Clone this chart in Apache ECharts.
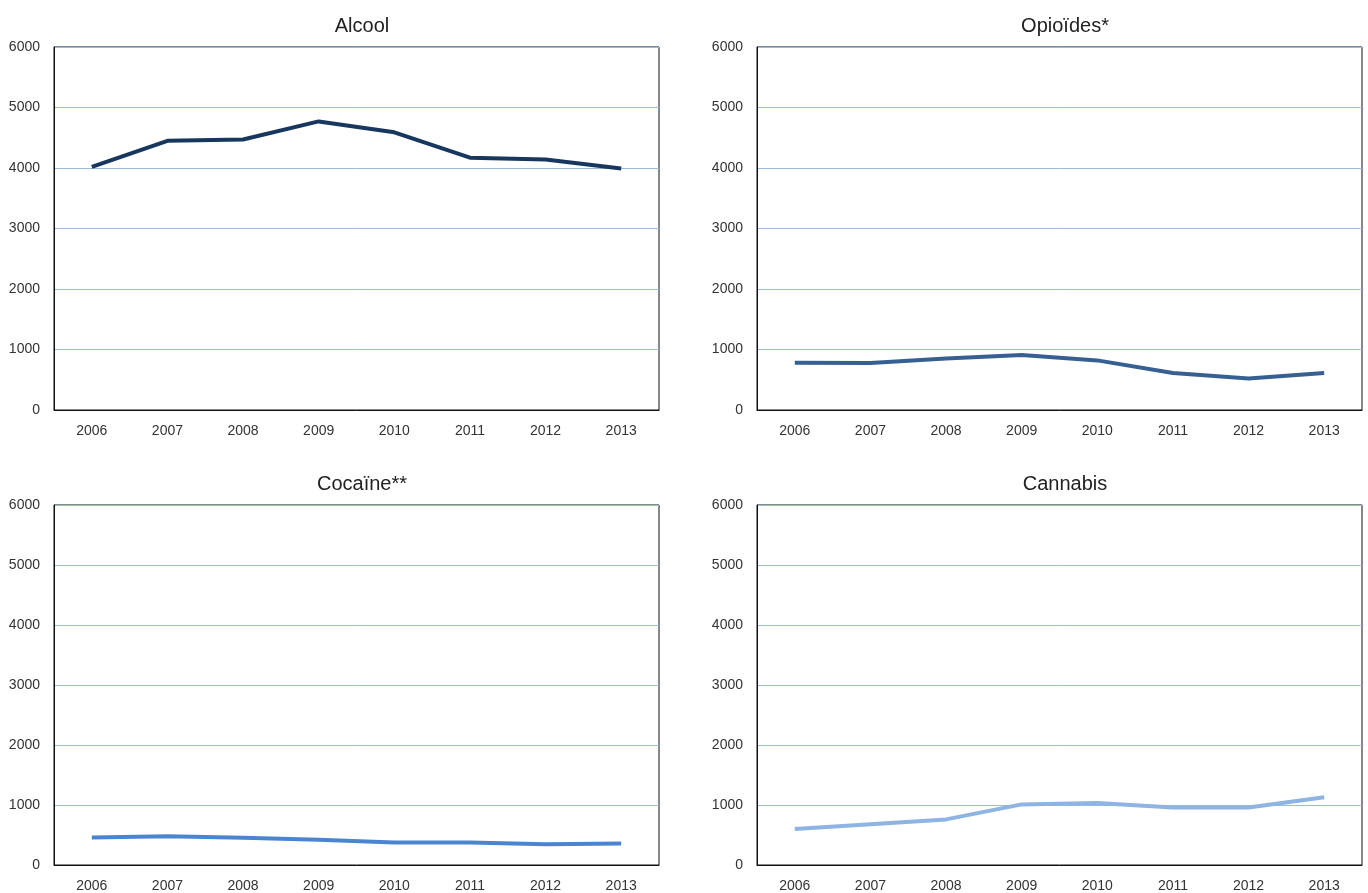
<!DOCTYPE html>
<html><head><meta charset="utf-8">
<script src="https://cdn.jsdelivr.net/npm/echarts@6/dist/echarts.min.js"></script>
<style>html,body{margin:0;background:#fff}#main{width:1368px;height:893px}</style>
</head><body><div id="main"></div>
<script>
var years = ['2006','2007','2008','2009','2010','2011','2012','2013'];
var titles = ['Alcool', 'Opioïdes*', 'Cocaïne**', 'Cannabis'];
var alcool = [4020, 4450, 4470, 4770, 4590, 4170, 4140, 3990];
var opioides = [780, 775, 850, 910, 820, 610, 520, 610];
var cocaine = [460, 480, 455, 420, 375, 375, 345, 360];
var cannabis = [600, 680, 760, 1010, 1035, 960, 960, 1130];
var colors = ['#17375E', '#376092', '#4A86D0', '#8DB4E2'];

var myChart = echarts.init(document.getElementById('main'));
var boxes = [[54, 47], [757, 47], [54, 505], [757, 505]];
var allData = [alcool, opioides, cocaine, cannabis];
var font = 'Liberation Sans';

option = {
    backgroundColor: '#fff',
    title: boxes.map(function (b, i) {
        return { text: titles[i], left: b[0] + 303, top: b[1] - 36, textAlign: 'center',
            textStyle: { fontSize: 20, fontWeight: 'normal', color: '#222', fontFamily: font } };
    }),
    grid: boxes.map(function (b) {
        return { left: b[0], top: b[1], width: 605, height: 363, show: true,
            borderColor: '#111', borderWidth: 1, backgroundColor: 'transparent' };
    }),
    xAxis: boxes.map(function (b, i) {
        return { type: 'category', gridIndex: i, data: years, boundaryGap: true,
            axisLine: { show: true, lineStyle: { color: '#111' } }, axisTick: { show: false },
            axisLabel: { color: '#333', fontSize: 14, fontFamily: font, margin: 14 } };
    }),
    yAxis: boxes.map(function (b, i) {
        return { type: 'value', gridIndex: i, min: 0, max: 6000, interval: 1000,
            axisLine: { show: true, lineStyle: { color: '#111' } }, axisTick: { show: false },
            axisLabel: { color: '#333', fontSize: 14, fontFamily: font, margin: 14,
                formatter: function (v) { return String(v); } },
            splitLine: { lineStyle: { color: '#9DB9E0', width: 1 } } };
    }),
    series: allData.map(function (d, i) {
        return { type: 'line', xAxisIndex: i, yAxisIndex: i, data: d, symbol: 'none',
            lineStyle: { color: colors[i], width: 4 }, itemStyle: { color: colors[i] } };
    })
};
myChart.setOption(option);
</script></body></html>
